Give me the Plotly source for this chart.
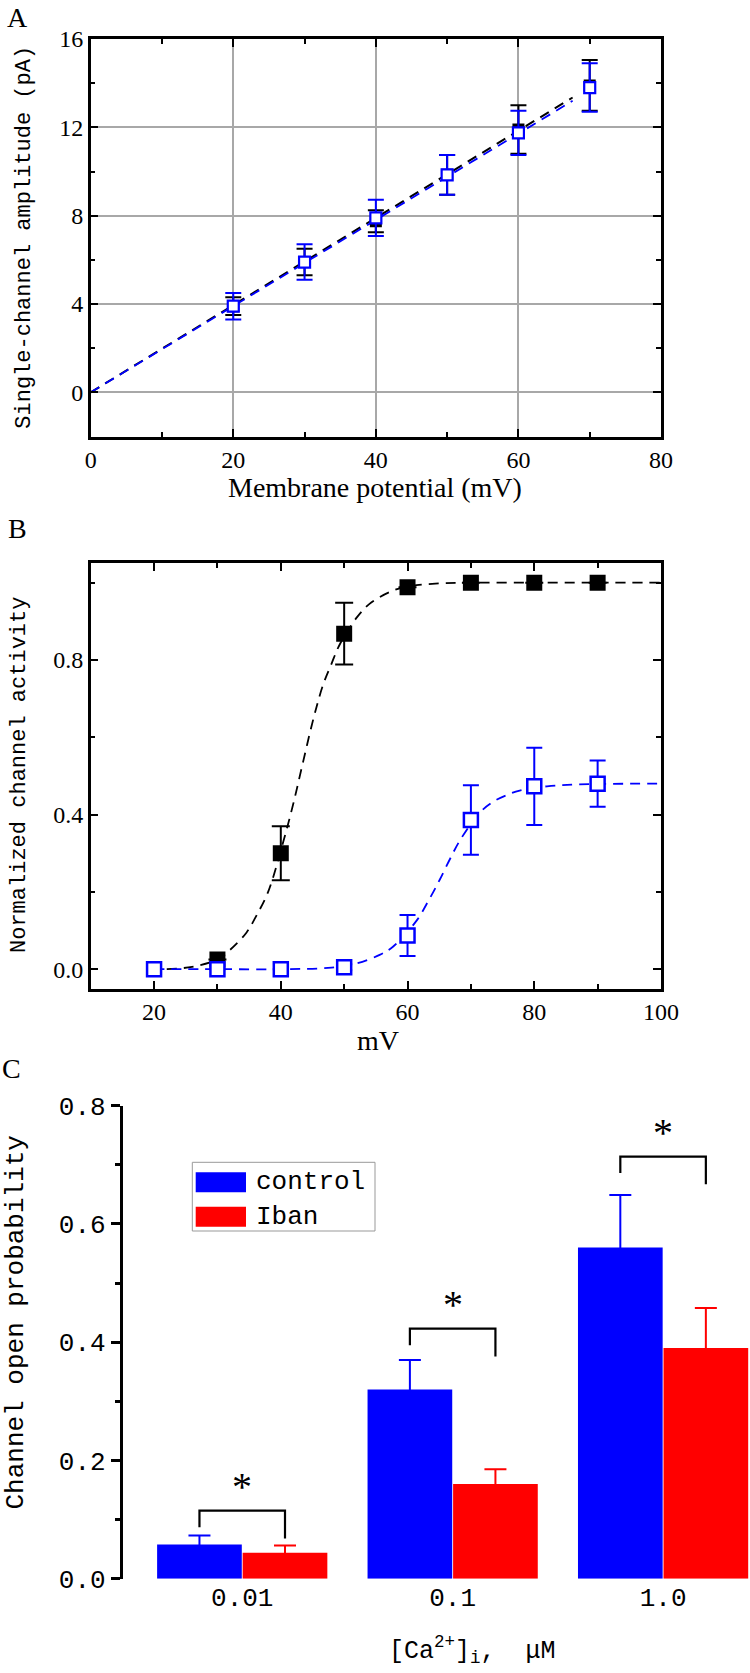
import plotly.graph_objects as go

W, H = 750, 1673

# ---------------- data: panel A ----------------
a_volt = [20, 30, 40, 50, 60, 70]
a_ctrl_amp = [3.9, 5.9, 7.75, 9.85, 11.9, 13.9]
a_ctrl_err = [0.4, 0.6, 0.5, 0.9, 1.1, 1.15]
a_iban_amp = [3.9, 5.9, 7.9, 9.85, 11.75, 13.8]
a_iban_err = [0.6, 0.8, 0.82, 0.9, 1.0, 1.1]
a_fit_x = [0, 67.6]
a_ctrl_fit_y = [0, 13.35]
a_iban_fit_y = [0, 13.2]

# ---------------- data: panel B ----------------
b_ctrl_v = [30, 40, 50, 60, 70, 80, 90]
b_ctrl_act = [0.025, 0.30, 0.868, 0.988, 1.0, 1.0, 1.0]
b_ctrl_err = [0, 0.07, 0.08, 0, 0, 0, 0]
b_iban_v = [20, 30, 40, 50, 60, 70, 80, 90]
b_iban_act = [0.0, 0.0, 0.0, 0.005, 0.087, 0.386, 0.473, 0.48]
b_iban_err = [0, 0, 0, 0.008, 0.053, 0.09, 0.1, 0.06]
b_ctrl_fit_x = [22, 26, 30, 32, 34.6, 36.2, 38, 40.4, 42, 43.5, 45.1, 46.7, 48, 49.3,
                52, 54, 57.2, 60, 65, 70, 80, 90, 100]
b_ctrl_fit_y = [0.0, 0.006, 0.025, 0.05, 0.095, 0.14, 0.2, 0.33, 0.43, 0.535, 0.645,
                0.737, 0.79, 0.84, 0.91, 0.945, 0.976, 0.99, 0.998, 1.0, 1.0, 1.0, 1.0]
b_iban_fit_x = [20, 30, 40, 48, 52, 55.6, 57.7, 61.4, 63.5, 65.1, 66.7, 68.3, 71.4,
                73.5, 75.6, 77.7, 82, 87, 100]
b_iban_fit_y = [0, 0, 0, 0.004, 0.015, 0.037, 0.058, 0.125, 0.183, 0.232, 0.285, 0.334,
                0.405, 0.433, 0.45, 0.462, 0.473, 0.478, 0.48]

# ---------------- data: panel C ----------------
c_cats = ['0.01', '0.1', '1.0']
c_ctrl = [0.058, 0.32, 0.56]
c_ctrl_err = [0.015, 0.05, 0.089]
c_iban = [0.044, 0.16, 0.39]
c_iban_err = [0.012, 0.025, 0.068]
c_sig_top = [0.115, 0.423, 0.714]
c_sig_label = ['*', '*', '*']

# ---------------- helpers ----------------
def px(x):
    return x / W

def py(y):
    return 1 - y / H

xA = [px(90.7), px(661)]
yA = [py(436.5), py(39)]
yB = [py(988.5), py(563.3)]
xC = [px(122.7), 1.0]
yC = [py(1578.7), py(1105.7)]

DASH = '10px,7px'
BLUE = '#0000ff'
RED = '#ff0000'

fig = go.Figure()

# ---- Panel A ----
fig.add_trace(go.Scatter(x=a_fit_x, y=a_ctrl_fit_y, mode='lines',
                         line=dict(color='black', width=2, dash=DASH),
                         xaxis='x', yaxis='y', showlegend=False))
fig.add_trace(go.Scatter(x=a_fit_x, y=a_iban_fit_y, mode='lines',
                         line=dict(color=BLUE, width=1.8, dash=DASH),
                         xaxis='x', yaxis='y', showlegend=False))
fig.add_trace(go.Scatter(x=a_volt, y=a_ctrl_amp, mode='markers',
                         marker=dict(symbol='square', size=12, color='black'),
                         error_y=dict(type='data', array=a_ctrl_err, color='black',
                                      thickness=2, width=8),
                         xaxis='x', yaxis='y', showlegend=False))
fig.add_trace(go.Scatter(x=a_volt, y=a_iban_amp, mode='markers',
                         marker=dict(symbol='square', size=11, color='white',
                                     line=dict(color=BLUE, width=2.2)),
                         error_y=dict(type='data', array=a_iban_err, color=BLUE,
                                      thickness=2, width=8),
                         xaxis='x', yaxis='y', showlegend=False))

# ---- Panel B ----
fig.add_trace(go.Scatter(x=b_ctrl_fit_x, y=b_ctrl_fit_y, mode='lines',
                         line=dict(color='black', width=1.8, dash=DASH, shape='spline'),
                         xaxis='x2', yaxis='y2', showlegend=False))
fig.add_trace(go.Scatter(x=b_ctrl_v, y=b_ctrl_act, mode='markers',
                         marker=dict(symbol='square', size=16, color='black'),
                         error_y=dict(type='data', array=b_ctrl_err, color='black',
                                      thickness=2, width=9),
                         xaxis='x2', yaxis='y2', showlegend=False))
fig.add_trace(go.Scatter(x=b_iban_fit_x, y=b_iban_fit_y, mode='lines',
                         line=dict(color=BLUE, width=1.8, dash=DASH, shape='spline'),
                         xaxis='x2', yaxis='y2', showlegend=False))
fig.add_trace(go.Scatter(x=b_iban_v, y=b_iban_act, mode='markers',
                         marker=dict(symbol='square', size=14, color='white',
                                     line=dict(color=BLUE, width=2.5)),
                         error_y=dict(type='data', array=b_iban_err, color=BLUE,
                                      thickness=2, width=8),
                         xaxis='x2', yaxis='y2', showlegend=False))

# ---- Panel C ----
c_pos = list(range(len(c_cats)))
BARGAP = 0.187
CAP_INSIDE = 0.004  # tucks the (unwanted) lower error cap inside the bar
fig.add_trace(go.Bar(x=c_pos, y=c_ctrl, name='control',
                     marker=dict(color=BLUE, line=dict(width=0)),
                     error_y=dict(type='data', symmetric=False, array=c_ctrl_err,
                                  arrayminus=[CAP_INSIDE] * len(c_ctrl), color=BLUE,
                                  thickness=2, width=11),
                     xaxis='x3', yaxis='y3', showlegend=False))
fig.add_trace(go.Bar(x=c_pos, y=c_iban, name='Iban',
                     marker=dict(color=RED, line=dict(width=0)),
                     error_y=dict(type='data', symmetric=False, array=c_iban_err,
                                  arrayminus=[CAP_INSIDE] * len(c_iban), color=RED,
                                  thickness=2, width=11),
                     xaxis='x3', yaxis='y3', showlegend=False))

half = (1 - BARGAP) / 4  # offset of each bar centre from the category
LEFT_LEG, RIGHT_LEG = 0.028, 0.047
for i, top in enumerate(c_sig_top):
    fig.add_trace(go.Scatter(x=[i - half, i - half, i + half, i + half],
                             y=[top - LEFT_LEG, top, top, top - RIGHT_LEG],
                             mode='lines', line=dict(color='black', width=2.2),
                             xaxis='x3', yaxis='y3', showlegend=False))

annotations = []
for i, top in enumerate(c_sig_top):
    annotations.append(dict(x=i, y=top, xref='x3', yref='y3', text=c_sig_label[i],
                            showarrow=False, xanchor='center', yanchor='bottom',
                            font=dict(family='Liberation Serif', size=40, color='black')))

# panel letters
for letter, (lx, ly) in {'A': (17, 17), 'B': (17, 528), 'C': (11, 1068)}.items():
    annotations.append(dict(x=px(lx), y=py(ly), xref='paper', yref='paper', text=letter,
                            showarrow=False, xanchor='center', yanchor='middle',
                            font=dict(family='Liberation Serif', size=28, color='black')))

# axis titles
annotations += [
    dict(x=px(25), y=py(237.7), xref='paper', yref='paper', text='Single-channel amplitude (pA)',
         textangle=-90, showarrow=False, xanchor='center', yanchor='middle',
         font=dict(family='Liberation Mono', size=22, color='black')),
    dict(x=px(375), y=py(487), xref='paper', yref='paper', text='Membrane potential (mV)',
         showarrow=False, xanchor='center', yanchor='middle',
         font=dict(family='Liberation Serif', size=28, color='black')),
    dict(x=px(19), y=py(775), xref='paper', yref='paper', text='Normalized channel activity',
         textangle=-90, showarrow=False, xanchor='center', yanchor='middle',
         font=dict(family='Liberation Mono', size=22, color='black')),
    dict(x=px(378), y=py(1040), xref='paper', yref='paper', text='mV',
         showarrow=False, xanchor='center', yanchor='middle',
         font=dict(family='Liberation Serif', size=28, color='black')),
    dict(x=px(15.5), y=py(1323), xref='paper', yref='paper', text='Channel open probability',
         textangle=-90, showarrow=False, xanchor='center', yanchor='middle',
         font=dict(family='Liberation Mono', size=26, color='black')),
    dict(x=px(472), y=py(1650), xref='paper', yref='paper',
         text='[Ca<sup>2+</sup>]<sub>i</sub>,  μM',
         showarrow=False, xanchor='center', yanchor='middle',
         font=dict(family='Liberation Mono', size=25, color='black')),
]

# custom legend (panel C)
shapes = [
    dict(type='rect', xref='paper', yref='paper', x0=px(192.3), x1=px(375),
         y0=py(1231), y1=py(1162.3), line=dict(color='#999999', width=1), fillcolor='white', layer='above'),
    dict(type='rect', xref='paper', yref='paper', x0=px(195.7), x1=px(246),
         y0=py(1192.3), y1=py(1172.3), line=dict(width=0), fillcolor=BLUE, layer='above'),
    dict(type='rect', xref='paper', yref='paper', x0=px(195.7), x1=px(246),
         y0=py(1226.7), y1=py(1206.7), line=dict(width=0), fillcolor=RED, layer='above'),
]
annotations += [
    dict(x=px(254), y=py(1182.3), xref='paper', yref='paper', text='control',
         showarrow=False, xanchor='left', yanchor='middle',
         font=dict(family='Liberation Mono', size=26, color='black')),
    dict(x=px(254), y=py(1216.7), xref='paper', yref='paper', text='Iban',
         showarrow=False, xanchor='left', yanchor='middle',
         font=dict(family='Liberation Mono', size=26, color='black')),
]

serif_ticks = dict(family='Liberation Serif', size=24, color='black')
box_axis = dict(showline=True, linecolor='black', linewidth=2.5, mirror='ticks',
                ticks='inside', ticklen=8, tickwidth=2, tickcolor='black',
                zeroline=False, tickfont=serif_ticks, automargin=False)
minor_in = lambda d: dict(dtick=d, ticks='inside', ticklen=5, tickwidth=2,
                          tickcolor='black', showgrid=False)

fig.update_layout(
    template='none',
    width=W, height=H, autosize=False,
    margin=dict(l=0, r=0, t=0, b=0, pad=0, autoexpand=False),
    paper_bgcolor='white', plot_bgcolor='white',
    barmode='group', bargap=BARGAP, bargroupgap=0.01,
    xaxis=dict(domain=xA, anchor='y', range=[0, 80], tick0=0, dtick=20,
               showgrid=True, gridcolor='#a8a8a8', gridwidth=1.5,
               minor=minor_in(10), **box_axis),
    yaxis=dict(domain=yA, anchor='x', range=[-2, 16], tick0=0, dtick=4,
               showgrid=True, gridcolor='#a8a8a8', gridwidth=1.5,
               minor=minor_in(2), **box_axis),
    xaxis2=dict(domain=xA, anchor='y2', range=[10, 100], tick0=0, dtick=20,
                showgrid=False, minor=minor_in(10), **box_axis),
    yaxis2=dict(domain=yB, anchor='x2', range=[-0.05, 1.05], tick0=0, dtick=0.4,
                tickformat='.1f', showgrid=False, minor=minor_in(0.2), **box_axis),
    xaxis3=dict(domain=xC, anchor='y3', range=[-0.568, 2.413], tickmode='array',
                tickvals=c_pos, ticktext=c_cats, showline=False, ticks='',
                showgrid=False, zeroline=False, automargin=False,
                tickfont=dict(family='Liberation Mono', size=26, color='black')),
    yaxis3=dict(domain=yC, anchor='x3', range=[0, 0.8], tick0=0, dtick=0.2,
                tickformat='.1f', ticks='outside', ticklen=9, tickwidth=2.5,
                tickcolor='black', showline=True, linecolor='black', linewidth=2.7,
                showgrid=False, zeroline=False, automargin=False,
                minor=dict(dtick=0.1, ticks='outside', ticklen=5, tickwidth=2.5,
                           tickcolor='black', showgrid=False),
                tickfont=dict(family='Liberation Mono', size=26, color='black')),
    annotations=annotations,
    shapes=shapes,
)

fig.write_html('out.html', config={'displayModeBar': False},
               post_script="document.body.style.margin='0';document.body.style.overflow='hidden';")
